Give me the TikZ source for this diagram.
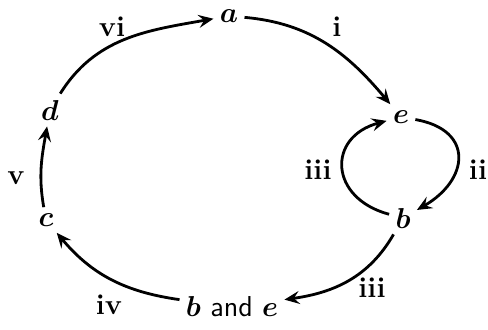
\documentclass[tikz,border=0pt]{standalone}
\usepackage{amsmath, amssymb, bm}
\usetikzlibrary{arrows.meta}

\begin{document}
\begin{tikzpicture}[
  x=0.5pt, y=0.5pt,
  pt/.style   = {inner sep=3pt, font=\Large},
  lbl/.style  = {inner sep=1pt, font=\Large\bfseries},
  arr/.style  = {-{Stealth[length=7.5pt, width=6.5pt, inset=2.8pt]}, line width=1.4pt}
]
\useasboundingbox (0,0) rectangle (488,329);

% ── STATES ──────────────────────────────────────────────
\node[pt] (a)  at (229,313) {$\bm{a}$};
\node[pt] (e)  at (401,212) {$\bm{e}$};
\node[pt] (b)  at (403,111) {$\bm{b}$};
\node[pt] (be) at (232,22)  {$\bm{b}$ \textsf{and} $\bm{e}$};
\node[pt] (c)  at (46,109)  {$\bm{c}$};
\node[pt] (d)  at (50,219)  {$\bm{d}$};

% ── STEPS ───────────────────────────────────────────────
\draw[arr] (d) to[out=58, in=190] (a);
\draw[arr] (a) to[out=-5, in=130] (e);
\draw[arr] (e) to[out=-10, in=30, looseness=1.7] (b);
\draw[arr] (b) to[out=165, in=195, looseness=1.7] (e);
\draw[arr] (b) to[out=240, in=8] (be);
\draw[arr] (be) to[out=172, in=-50] (c);
\draw[arr] (c) to[out=100, in=-100] (d);

% ── LABELS ──────────────────────────────────────────────
\node[lbl] (l6)  at (112,302) {vi};
\node[lbl] (l1)  at (337,302) {i};
\node[lbl] (l3a) at (318,159) {iii};
\node[lbl] (l2)  at (478,159) {ii};
\node[lbl] (l5)  at (16,151)  {v};
\node[lbl] (l4)  at (109,24)  {iv};
\node[lbl] (l3b) at (372,41)  {iii};

\end{tikzpicture}
\end{document}
